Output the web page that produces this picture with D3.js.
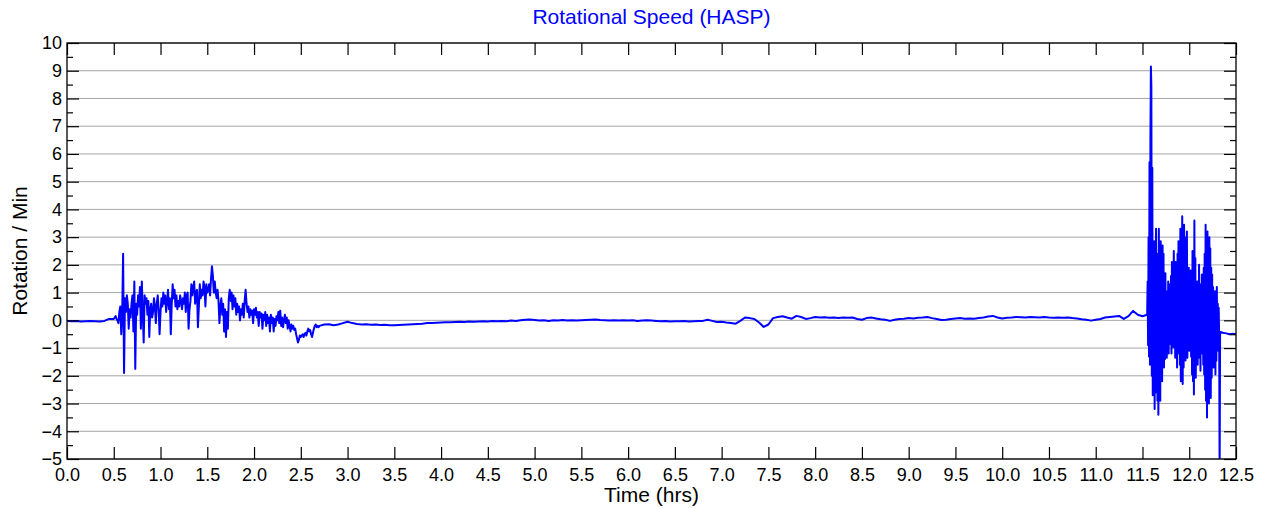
<!DOCTYPE html>
<html>
<head>
<meta charset="utf-8">
<script src="https://cdn.jsdelivr.net/npm/d3@7"></script>
<style>
  html, body { margin: 0; padding: 0; background: #fff; }
  .chart { width: 1265px; height: 508px; }
  svg text { font-family: "Liberation Sans", Arial, sans-serif; fill: #000; }
</style>
</head>
<body>
<div class="chart"></div>
<script>
// hours, sampled on a fixed grid per segment (start, step, values)
const quietStart = { t0: 0, dt: 0.05 };
const quietStartVals = [-0.02, -0.03, -0.02, -0.04, -0.03, -0.02, -0.03, -0.04, -0.02, 0.05];

const burstEarly = { t0: 0.5, dt: 0.01 };
const burstEarlyVals = [
  0.05, 0.10, 0.15, 0.05, 0.0, -0.1, 0.3, 0.5, -0.5, 0.2,
  2.4, -1.9, 0.8, 0.3, 0.9, 0.6, -0.3, 0.4, 0.1, 0.6,
  0.9, -0.4, 1.4, -1.75, 0.6, 0.2, 0.9, 0.5, 1.2, -0.3,
  1.4, 0.3, -0.8, 0.9, 0.6, 0.8, 0.2, 0.7, -0.6, 0.4,
  0.6, 0.1, 0.3, 0.8, 0.5, -0.1, 0.6, 0.9, 0.4, -0.5,
  0.3, 0.8, 0.5, 1.0, 0.6, 0.9, 0.3, 0.7, 1.1, 0.4,
  0.8, -0.5, 0.6, 1.3, 0.8, 1.1, 0.5, 0.9, 0.4, 0.7,
  0.5, 0.9, 0.7, 0.4, 0.8, 0.6, 1.0, 0.3, 0.9, 1.0,
  -0.3, 0.4, 0.7, 1.3, 0.9, 1.2, 1.4, 0.6, 1.0, 1.1,
  -0.25, 0.5, 1.3, 0.8, 1.1, 0.9, 1.4, 1.2, 0.5, 1.3,
  1.0, 1.1, 1.3, 0.9, 1.5, 1.95, 1.6, 1.0, 1.4, 1.0,
  0.8, 1.1, 0.7, -0.1, 0.5, 0.8, 0.2, 0.6, -0.4, 0.4,
  -0.6, 0.3, -0.3, 0.8, 1.1, 0.7, 1.0, 0.4, 0.9, 0.5,
  0.8, 0.2, 0.6, 0.3, 0.5, 0.0, 0.4, 0.2, 0.6, 0.1,
  0.7, 1.1, 0.6, 0.3, 0.5, 0.1, 0.4, 0.2, 0.35, -0.1,
  0.4, 0.2, 0.45, 0.1, 0.3, -0.2, 0.3, 0.1, 0.25, -0.3,
  0.2, 0.0, 0.3, -0.2, 0.2, -0.1, 0.1, -0.4, 0.2, -0.1,
  0.1, -0.4, 0.05, -0.2, 0.15, 0.0, 0.3, -0.1, 0.35, -0.2,
  0.1, -0.25, 0.0, 0.2, -0.1, 0.1, -0.3, 0.0, -0.2, -0.4,
  -0.15, -0.3, -0.2, -0.35, -0.3, -0.5, -0.65, -0.8, -0.7, -0.55,
  -0.6, -0.55, -0.5, -0.6, -0.5, -0.45, -0.55, -0.4, -0.3, -0.4,
  -0.35, -0.5, -0.6, -0.45, -0.3, -0.2, -0.15, -0.25, -0.2, -0.25,
  -0.2
];

const calmMiddle = { t0: 2.75, dt: 0.05 };
const calmMiddleVals = [
  -0.15, -0.14, -0.18, -0.15, -0.1, -0.05, -0.1, -0.13, -0.15, -0.14,
  -0.16, -0.15, -0.17, -0.16, -0.18, -0.18, -0.17, -0.16, -0.15, -0.14,
  -0.13, -0.12, -0.1, -0.1, -0.09, -0.08, -0.07, -0.07, -0.06, -0.05,
  -0.06, -0.04, -0.05, -0.04, -0.03, -0.04, -0.02, -0.03, -0.02, -0.03,
  -0.01, -0.02, 0.0, 0.02, 0.03, 0.01, -0.01, 0.0, -0.02, 0.0,
  -0.01, 0.01, -0.01, 0.0, -0.01, 0.0, 0.01, 0.02, 0.03, 0.01,
  0.0, -0.01, 0.0, -0.01, 0.0, -0.01, 0.0, -0.02, -0.01, 0.0,
  -0.01, -0.02, -0.03, -0.02, -0.04, -0.03, -0.03, -0.02, -0.04, -0.03,
  -0.02, -0.02, 0.02, -0.02, -0.06, -0.05, -0.08, -0.1, -0.12, -0.02,
  0.1, 0.08, 0.05, -0.08, -0.24, -0.15, 0.08, 0.12, 0.15, 0.1,
  0.06, 0.16, 0.12, 0.05, 0.08, 0.12, 0.1, 0.11, 0.09, 0.1,
  0.08, 0.1, 0.09, 0.1, 0.05, 0.02, 0.08, 0.1, 0.07, 0.04,
  0.02, -0.02, 0.02, 0.05, 0.06, 0.08, 0.07, 0.09, 0.1, 0.12,
  0.08, 0.05, 0.01, 0.02, 0.05, 0.07, 0.08, 0.06, 0.07, 0.06,
  0.08, 0.1, 0.14, 0.16, 0.1, 0.07, 0.09, 0.1, 0.12, 0.11,
  0.1, 0.12, 0.11, 0.1, 0.12, 0.1, 0.09, 0.1, 0.09, 0.1,
  0.08, 0.07, 0.04, 0.02, -0.01, 0.02, 0.05, 0.1, 0.12, 0.14,
  0.16, 0.05, 0.15, 0.34, 0.2, 0.15
];

const burstLate = { t0: 11.55, dt: 0.005 };
const burstLateVals = [
  0.2, 1.4, -0.9, 3.0, -1.3, 5.7, -1.6, 6.6, 9.15, 8.4,
  -2.0, 5.5, -2.7, 2.6, -2.4, 2.85, -3.2, 1.8, -2.6, 3.3,
  -1.5, 2.4, -2.9, 1.6, -3.4, 3.3, -2.2, 2.5, -2.9, 2.85,
  -1.6, 1.9, -2.2, 2.7, -1.1, 2.4, -1.7, 1.2, -1.4, 1.7,
  -0.6, 1.0, -1.35, 1.05, -0.8, 1.4, -1.2, 0.9, -0.7, 1.3,
  -0.86, 1.6, -1.2, 2.1, -0.5, 1.8, -0.98, 2.5, -0.6, 1.4,
  -1.35, 2.1, -1.0, 1.7, -1.7, 2.4, -0.9, 2.85, -1.2, 1.9,
  -1.6, 3.3, -2.2, 2.6, -1.5, 3.75, -2.3, 2.2, -1.7, 3.45,
  -1.0, 2.5, -1.45, 3.0, -0.8, 3.2, -1.35, 1.5, -0.7, 1.9,
  -1.1, 1.2, -0.98, 1.8, -1.3, 1.5, -1.95, 2.5, -2.2, 1.9,
  -2.67, 3.6, -1.5, 2.25, -2.07, 1.3, -1.1, 1.4, -1.6, 0.9,
  -1.0, 2.0, -1.35, 1.1, -1.82, 1.3, -0.9, 1.65, -1.2, 0.8,
  -1.6, 1.9, -1.95, 2.4, -2.5, 3.45, -2.9, 2.6, -3.5, 3.2,
  -2.6, 2.2, -3.0, 3.0, -2.3, 2.6, -2.8, 1.9, -2.07, 1.65,
  -1.5, 1.2, -1.7, 0.9, -1.2, 1.05, -1.95, 0.8, -1.46, 1.2,
  -1.0, 0.6, -1.1, 0.45, -0.6, -5.6, -0.42
];

const tailEnd = { t0: 12.36, dt: 0.035 };
const tailEndVals = [-0.45, -0.47, -0.5, -0.48, -0.5];

const xTicks = d3.range(0, 26).map(i => i * 0.5);
const yTicks = d3.range(-5, 11);
const yMinorTicks = d3.range(-5, 10).map(v => v + 0.5);

function samples(seg, vals) {
  return vals.map((v, i) => ({ t: seg.t0 + i * seg.dt, v }));
}

const series = [].concat(
  samples(quietStart, quietStartVals),
  samples(burstEarly, burstEarlyVals),
  samples(calmMiddle, calmMiddleVals),
  samples(burstLate, burstLateVals),
  samples(tailEnd, tailEndVals)
);

function createChart(el) {
  const $sel = d3.select(el);
  const marginTop = 43;
  const marginLeft = 67;
  const width = 1169;
  const height = 416;

  const scaleX = d3.scaleLinear().domain([0, 12.5]).range([0, width]);
  const scaleY = d3.scaleLinear().domain([-5, 10]).range([height, 0]);

  const $svg = $sel.append('svg').attr('width', 1265).attr('height', 508);
  const $g = $svg.append('g').attr('transform', `translate(${marginLeft}, ${marginTop})`);

  $svg.append('defs').append('clipPath').attr('id', 'plot-clip')
    .append('rect').attr('width', width).attr('height', height);

  // horizontal grid
  $g.append('g').attr('class', 'grid')
    .selectAll('line').data(yTicks).join('line')
    .attr('x1', 0).attr('x2', width)
    .attr('y1', d => scaleY(d)).attr('y2', d => scaleY(d))
    .attr('stroke', '#a6a6a6').attr('stroke-width', 1);

  // the signal
  const line = d3.line().x(d => scaleX(d.t)).y(d => scaleY(d.v));
  $g.append('path')
    .datum(series)
    .attr('clip-path', 'url(#plot-clip)')
    .attr('fill', 'none')
    .attr('stroke', '#0000ff')
    .attr('stroke-width', 2)
    .attr('stroke-linejoin', 'round')
    .attr('d', line);

  const styleAxis = ($a) => {
    $a.select('.domain').remove();
    $a.selectAll('.tick line').attr('stroke', '#000').attr('stroke-width', 1.2);
    $a.selectAll('.tick text').style('font-size', '18px');
  };

  // bottom + top x ticks
  $g.append('g').attr('transform', `translate(0, ${height})`)
    .call(d3.axisBottom(scaleX).tickValues(xTicks).tickSize(-12).tickPadding(9)
      .tickFormat(d3.format('.1f')))
    .call(styleAxis);
  $g.append('g')
    .call(d3.axisTop(scaleX).tickValues(xTicks).tickSize(-12).tickFormat(''))
    .call(styleAxis);

  // left + right y ticks
  $g.append('g')
    .call(d3.axisLeft(scaleY).tickValues(yTicks).tickSize(-12).tickPadding(5)
      .tickFormat(d3.format('d')))
    .call(styleAxis);
  $g.append('g')
    .call(d3.axisLeft(scaleY).tickValues(yMinorTicks).tickSize(-6).tickFormat(''))
    .call(styleAxis);
  $g.append('g').attr('transform', `translate(${width}, 0)`)
    .call(d3.axisRight(scaleY).tickValues(yTicks).tickSize(-12).tickFormat(''))
    .call(styleAxis);
  $g.append('g').attr('transform', `translate(${width}, 0)`)
    .call(d3.axisRight(scaleY).tickValues(yMinorTicks).tickSize(-6).tickFormat(''))
    .call(styleAxis);

  // frame
  $g.append('rect')
    .attr('width', width).attr('height', height)
    .attr('fill', 'none').attr('stroke', '#000').attr('stroke-width', 1.3);

  // labels
  $svg.append('text')
    .attr('x', marginLeft + width / 2).attr('y', 24)
    .attr('text-anchor', 'middle')
    .style('font-size', '21px').style('fill', '#0000ff')
    .text('Rotational Speed (HASP)');

  $svg.append('text')
    .attr('x', marginLeft + width / 2).attr('y', 502)
    .attr('text-anchor', 'middle')
    .style('font-size', '21px')
    .text('Time (hrs)');

  $svg.append('text')
    .attr('transform', `translate(27, ${marginTop + height / 2}) rotate(-90)`)
    .attr('text-anchor', 'middle')
    .style('font-size', '21px')
    .text('Rotation / Min');
}

createChart(document.querySelector('.chart'));
</script>
</body>
</html>
